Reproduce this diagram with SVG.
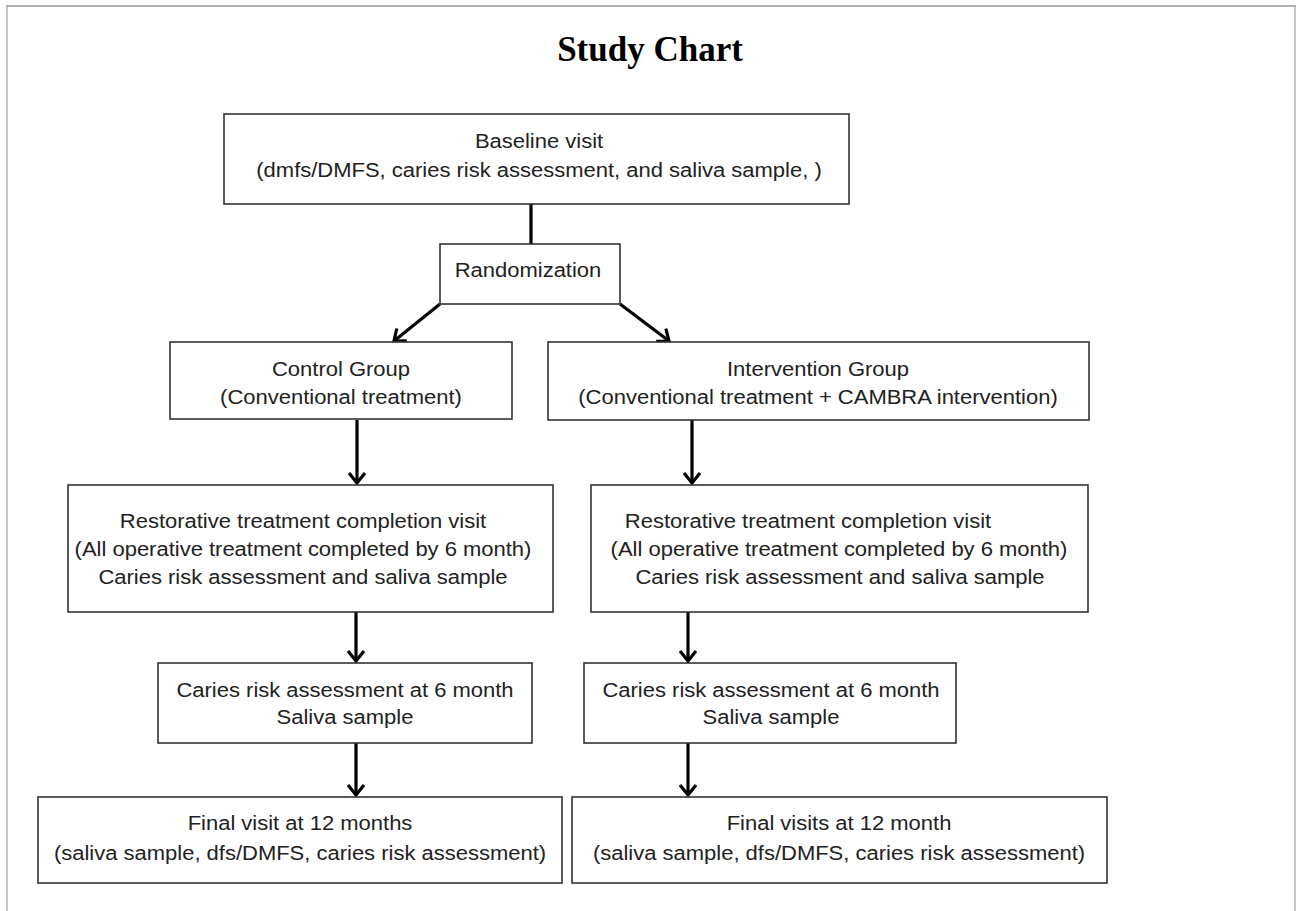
<svg xmlns="http://www.w3.org/2000/svg" width="1297" height="911" viewBox="0 0 1297 911">
<defs>
<style>
.box{fill:#fff;stroke:#333;stroke-width:1.6}
.t{font-family:"Liberation Sans",Arial,sans-serif;font-size:19.5px;fill:#222;text-anchor:middle}
.title{font-family:"Liberation Serif","Times New Roman",serif;font-size:35px;font-weight:bold;fill:#000;text-anchor:middle}
.c{stroke:#000;stroke-width:3.2;fill:none;marker-end:url(#ah)}
.frame{stroke:#b0b0b0;fill:none}
</style>
<marker id="ah" markerUnits="userSpaceOnUse" markerWidth="24" markerHeight="24" viewBox="-12 -12 24 24" refX="0" refY="0" orient="auto">
<polyline points="-10,-8 0,0 -10,8" fill="none" stroke="#000" stroke-width="3.2" stroke-linejoin="miter"/>
</marker>
</defs>
<rect width="1297" height="911" fill="#fff"/>
<g id="frame">
<line class="frame" x1="6" y1="6" x2="1296" y2="6" stroke-width="2"/>
<line class="frame" x1="7" y1="6" x2="7" y2="911" stroke-width="1.5"/>
<line class="frame" x1="1295" y1="6" x2="1295" y2="911" stroke-width="1.5"/>
</g>
<text class="title" x="650" y="61">Study Chart</text>
<g id="connectors">
<line x1="531" y1="204" x2="531" y2="244" stroke="#000" stroke-width="3.2"/>
<line class="c" x1="440" y1="304" x2="394" y2="341"/>
<line class="c" x1="620" y1="304" x2="669" y2="341"/>
<line class="c" x1="357" y1="420" x2="357" y2="483"/>
<line class="c" x1="692" y1="420" x2="692" y2="483"/>
<line class="c" x1="356" y1="612" x2="356" y2="661"/>
<line class="c" x1="688" y1="612" x2="688" y2="661"/>
<line class="c" x1="356" y1="743" x2="356" y2="795"/>
<line class="c" x1="688" y1="743" x2="688" y2="795"/>
</g>
<g id="baseline">
<rect class="box" x="224" y="114" width="625" height="90"/>
<text class="t" transform="translate(539 148) scale(1.128 1)">Baseline visit</text>
<text class="t" transform="translate(539 177) scale(1.128 1)">(dmfs/DMFS, caries risk assessment, and saliva sample, )</text>
</g>
<g id="randomization">
<rect class="box" x="440" y="244" width="180" height="60"/>
<text class="t" transform="translate(528 277) scale(1.128 1)">Randomization</text>
</g>
<g id="control">
<rect class="box" x="170" y="342" width="342" height="77"/>
<text class="t" transform="translate(341 375.5) scale(1.128 1)">Control Group</text>
<text class="t" transform="translate(341 403.5) scale(1.128 1)">(Conventional treatment)</text>
</g>
<g id="intervention">
<rect class="box" x="548" y="342" width="541" height="78"/>
<text class="t" transform="translate(818 375.5) scale(1.128 1)">Intervention Group</text>
<text class="t" transform="translate(818 403.5) scale(1.128 1)">(Conventional treatment + CAMBRA intervention)</text>
</g>
<g id="restorative-control">
<rect class="box" x="68" y="485" width="485" height="127"/>
<text class="t" transform="translate(303 528) scale(1.128 1)">Restorative treatment completion visit</text>
<text class="t" transform="translate(303 556) scale(1.128 1)">(All operative treatment completed by 6 month)</text>
<text class="t" transform="translate(303 584) scale(1.128 1)">Caries risk assessment and saliva sample</text>
</g>
<g id="restorative-intervention">
<rect class="box" x="591" y="485" width="497" height="127"/>
<text class="t" transform="translate(808 528) scale(1.128 1)">Restorative treatment completion visit</text>
<text class="t" transform="translate(839 556) scale(1.128 1)">(All operative treatment completed by 6 month)</text>
<text class="t" transform="translate(840 584) scale(1.128 1)">Caries risk assessment and saliva sample</text>
</g>
<g id="sixmonth-control">
<rect class="box" x="158" y="663" width="374" height="80"/>
<text class="t" transform="translate(345 697) scale(1.128 1)">Caries risk assessment at 6 month</text>
<text class="t" transform="translate(345 724) scale(1.128 1)">Saliva sample</text>
</g>
<g id="sixmonth-intervention">
<rect class="box" x="584" y="663" width="372" height="80"/>
<text class="t" transform="translate(771 697) scale(1.128 1)">Caries risk assessment at 6 month</text>
<text class="t" transform="translate(771 724) scale(1.128 1)">Saliva sample</text>
</g>
<g id="final-control">
<rect class="box" x="38" y="797" width="524" height="86"/>
<text class="t" transform="translate(300 830) scale(1.128 1)">Final visit at 12 months</text>
<text class="t" transform="translate(300 860) scale(1.128 1)">(saliva sample, dfs/DMFS, caries risk assessment)</text>
</g>
<g id="final-intervention">
<rect class="box" x="572" y="797" width="535" height="86"/>
<text class="t" transform="translate(839 830) scale(1.128 1)">Final visits at 12 month</text>
<text class="t" transform="translate(839 860) scale(1.128 1)">(saliva sample, dfs/DMFS, caries risk assessment)</text>
</g>
</svg>
